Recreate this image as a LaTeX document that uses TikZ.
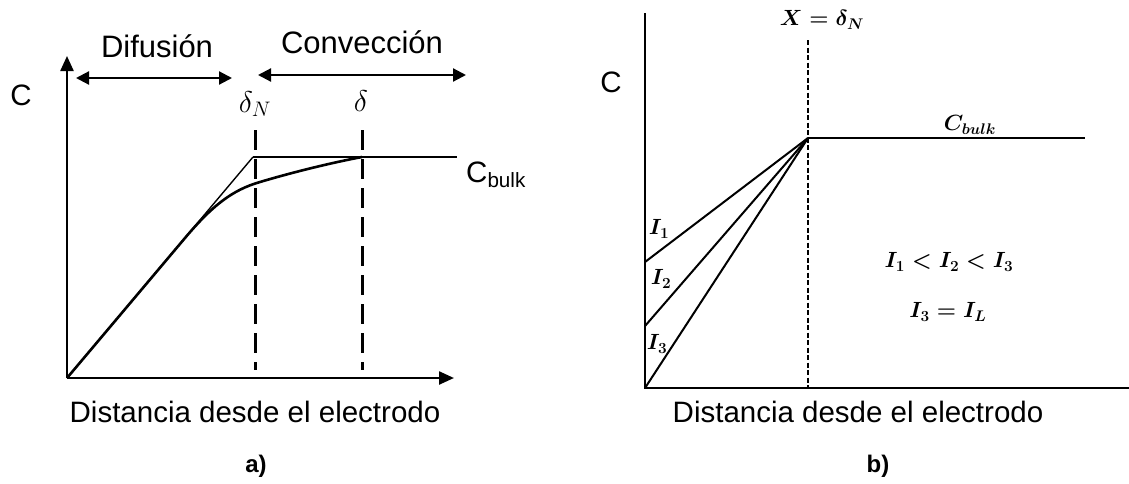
\RequirePackage{fix-cm}
\documentclass[tikz,border=0pt]{standalone}
\usepackage{fontspec}
\setmainfont{Liberation Sans}
\usepackage{amsmath}
\usetikzlibrary{arrows.meta}
\tikzset{
  axis/.style={line width=2.4pt, -{Triangle[length=15pt,width=13pt]}},
  both/.style={line width=2.2pt, {Triangle[length=13pt,width=13pt]}-{Triangle[length=13pt,width=13pt]}},
  bigtxt/.style={font=\fontsize{29.5}{34}\selectfont, inner sep=0pt},
  toptxt/.style={font=\fontsize{31}{36}\selectfont, inner sep=0pt},
  mathtxt/.style={font=\fontsize{30}{36}\selectfont, inner sep=0pt},
  boldtxt/.style={font=\fontsize{22}{26}\selectfont\boldmath, inner sep=0pt},
  labtxt/.style={font=\fontsize{24}{28}\selectfont\bfseries, inner sep=0pt},
  thickdash/.style={line width=3pt, dash pattern=on 20pt off 9pt},
  thindash/.style={line width=2.2pt, dash pattern=on 5pt off 2.5pt}
}

\begin{document}
\begin{tikzpicture}[x=1pt, y=-1pt]
  \useasboundingbox (0,0) rectangle (1129,483);
  % panel a)
  \coordinate (Oa) at (67,378);
  \coordinate (Ya) at (67,56);
  \coordinate (Xa) at (454,378);
  \coordinate (Kn) at (253,157);
  \coordinate (Kd) at (362,157);
  \coordinate (Ke) at (457,157);
  \coordinate (Nt) at (255,130);
  \coordinate (Nb) at (255,370);
  \coordinate (Dt) at (362,130);
  \coordinate (Db) at (362,370);
  \coordinate (Fa) at (76,78);
  \coordinate (Fb) at (232,78);
  \coordinate (Ga) at (258,75);
  \coordinate (Gb) at (466,75);
  \draw[axis] (Oa) -- (Ya);
  \draw[axis] (Oa) -- (Xa);
  \draw[both] (Fa) -- (Fb);
  \draw[both] (Ga) -- (Gb);
  \draw[line width=1.4pt] (Oa) -- (Kn);
  \draw[line width=2.4pt] (Kn) -- (Ke);
  \draw[line width=2.6pt] (Oa) -- (185,238) .. controls (212,206) and (232,190) .. (260,182)
    .. controls (290,173) and (330,163) .. (Kd);
  \draw[thickdash] (Nt) -- (Nb);
  \draw[thickdash] (Dt) -- (Db);
  \node[toptxt] (difus) at (157,46) {Difusión};
  \node[toptxt] (conve) at (362,42) {Convección};
  \node[bigtxt] (ca) at (21,95) {C};
  \node[mathtxt] (dn) at (255,104) {$\delta_N$};
  \node[mathtxt] (dd) at (361,101) {$\delta$};
  \node[bigtxt, anchor=west] (cba) at (466,175) {C\textsubscript{bulk}};
  \node[bigtxt] (xa) at (255,412) {Distancia desde el electrodo};
  \node[labtxt] (la) at (256,466) {a)};
  % panel b)
  \coordinate (Ob) at (645,388);
  \coordinate (Yb) at (645,13);
  \coordinate (Xb) at (1129,388);
  \coordinate (P) at (808,138);
  \coordinate (Pt) at (808,40);
  \coordinate (Pb) at (808,388);
  \coordinate (Pe) at (1085,138);
  \coordinate (I1) at (645,262);
  \coordinate (I2) at (645,326);
  \draw[line width=2pt] (Yb) -- (Ob) -- (Xb);
  \draw[thindash] (Pt) -- (Pb);
  \draw[line width=2pt] (P) -- (Pe);
  \draw[line width=2pt] (I1) -- (P);
  \draw[line width=2pt] (I2) -- (P);
  \draw[line width=2pt] (Ob) -- (P);
  \node[bigtxt] (cb) at (611,82) {C};
  \node[boldtxt] (xd) at (822,20) {$X=\delta_N$};
  \node[boldtxt] (cbb) at (970,125) {$C_{bulk}$};
  \node[boldtxt] (l1) at (659,229) {$I_1$};
  \node[boldtxt] (l2) at (661,279) {$I_2$};
  \node[boldtxt] (l3) at (657,344) {$I_3$};
  \node[boldtxt] (ineq) at (949,262) {$I_1<I_2<I_3$};
  \node[boldtxt] (eq) at (948,312) {$I_3=I_L$};
  \node[bigtxt] (xb) at (858,412) {Distancia desde el electrodo};
  \node[labtxt] (lb) at (878,466) {b)};
\end{tikzpicture}
\end{document}
